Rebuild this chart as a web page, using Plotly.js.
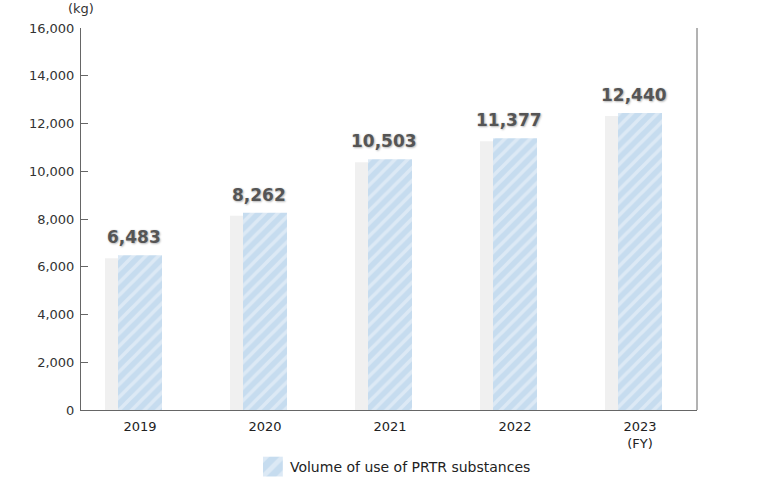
<!DOCTYPE html>
<html>
<head>
<meta charset="utf-8">
<script src="https://cdn.plot.ly/plotly-3.0.1.min.js"></script>
<style>
  html, body { margin: 0; padding: 0; background: #fff; }
  #chart { width: 760px; height: 477px; }
</style>
</head>
<body>
<div id="chart"></div>
<script>
// ---- data ----
const categories = ['2019', '2020', '2021', '2022', '2023'];
const tickLabels = ['2019', '2020', '2021', '2022', '2023<br>(FY)'];
const prtrVolume = [6483, 8262, 10503, 11377, 12440];
const seriesName = 'Volume of use of PRTR substances';
const yTickVals = [0, 2000, 4000, 6000, 8000, 10000, 12000, 14000, 16000];
const yTickText = ['0', '2,000', '4,000', '6,000', '8,000', '10,000', '12,000', '14,000', '16,000'];

const fmt = v => v.toLocaleString('en-US');

const barW = 0.352;
const shadowTrace = {
  type: 'bar',
  x: categories,
  y: prtrVolume,
  yaxis: 'y',
  width: barW,
  offset: -barW / 2 - 0.104,
  marker: { color: '#f0f0f0', line: { width: 0 } },
  showlegend: false,
  hoverinfo: 'skip'
};

const mainTrace = {
  type: 'bar',
  name: seriesName,
  x: categories,
  y: prtrVolume,
  yaxis: 'y2',
  width: barW,
  offset: -barW / 2,
  marker: {
    color: '#c6dcef',
    line: { width: 0 },
    pattern: { shape: '/', fillmode: 'replace', bgcolor: '#c6dcef', fgcolor: '#dce9f5', size: 9, solidity: 0.4 }
  }
};

const annotations = categories.map((c, i) => ({
  x: i, y: prtrVolume[i], xref: 'x', yref: 'y2',
  text: fmt(prtrVolume[i]),
  showarrow: false, xanchor: 'center', yanchor: 'bottom',
  xshift: -6.5, yshift: 6,
  font: { family: 'DejaVu Sans', size: 17, color: '#555', weight: 'bold',
          shadow: '1px 1px 2px #bbb, 0 0 2px #ddd' }
}));
annotations.push({
  x: 0, y: 1.05, xref: 'paper', yref: 'paper', text: '(kg)', showarrow: false,
  xanchor: 'center', yanchor: 'middle',
  font: { family: 'DejaVu Sans', size: 13, color: '#333' }
});

const layout = {
  width: 760, height: 477,
  margin: { l: 81, r: 63, t: 28, b: 67 },
  paper_bgcolor: '#fff', plot_bgcolor: '#fff',
  barmode: 'overlay',
  showlegend: true,
  font: { family: 'DejaVu Sans', size: 13, color: '#333' },
  xaxis: {
    type: 'category',
    range: [-0.472, 4.456],
    tickvals: categories, ticktext: tickLabels,
    showline: true, linecolor: '#666', linewidth: 1,
    ticks: '', showgrid: false, zeroline: false,
    ticklabelstandoff: 4,
    tickfont: { family: 'DejaVu Sans', size: 13, color: '#222' },
    fixedrange: true
  },
  yaxis: {
    range: [125, 16125], visible: false, fixedrange: true, showgrid: false, zeroline: false
  },
  yaxis2: {
    overlaying: 'y', side: 'left',
    range: [0, 16000],
    tickvals: yTickVals, ticktext: yTickText,
    showline: true, linecolor: '#666', linewidth: 1,
    ticks: 'inside', ticklen: 7, tickcolor: '#666',
    showgrid: false, zeroline: false,
    ticklabelstandoff: 3,
    tickfont: { family: 'DejaVu Sans', size: 13, color: '#333' },
    fixedrange: true
  },
  shapes: [{
    type: 'line', xref: 'paper', yref: 'paper', x0: 1, x1: 1, y0: 0, y1: 1,
    line: { color: '#666', width: 1 }
  }],
  legend: {
    orientation: 'h', x: 0.517, xanchor: 'center', xref: 'container',
    y: 0, yanchor: 'bottom', yref: 'container',
    font: { family: 'DejaVu Sans', size: 14, color: '#222' },
    itemwidth: 30
  },
  annotations: annotations
};

Plotly.newPlot('chart', [shadowTrace, mainTrace], layout, { displayModeBar: false, staticPlot: true })
  .then(gd => {
    gd.querySelectorAll('.legendpoints path').forEach(p => {
      p.setAttribute('transform', 'translate(23,0) scale(1.65)');
    });
    const lg = gd.querySelector('.legend');
    if (lg) {
      const m = /translate\(\s*([-\d.]+)[ ,]+([-\d.]+)\s*\)/.exec(lg.getAttribute('transform') || '');
      if (m) lg.setAttribute('transform', 'translate(' + m[1] + ',' + (parseFloat(m[2]) + 6) + ')');
    }
  });
</script>
</body>
</html>
